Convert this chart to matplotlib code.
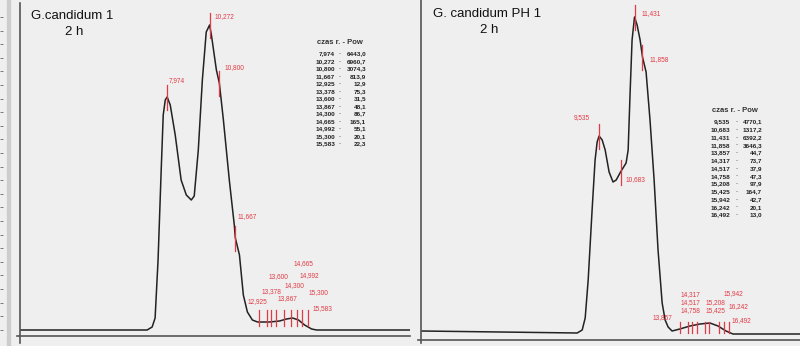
import numpy as np
import matplotlib
matplotlib.use("Agg")
import matplotlib.pyplot as plt

plt.rcParams['font.family'] = ['Liberation Sans', 'DejaVu Sans']

# --- G.candidum 1, 2 h : detector trace (time [min], signal) ---
t1 = [0.0, 6.887, 7.16, 7.32, 7.48, 7.65, 7.76, 7.87, 7.974, 8.14, 8.41, 8.73, 9.01, 9.28,
      9.44, 9.66, 9.88, 10.09, 10.272, 10.37, 10.64, 10.80, 11.02, 11.34, 11.61, 11.667,
      11.89, 12.10, 12.32, 12.59, 12.87, 13.52, 14.06, 14.44, 14.77, 15.09, 15.42, 15.80,
      16.07, 21.13]
s1 = [0, 0, 3, 12, 70, 160, 215, 230, 233, 225, 195, 150, 135, 130,
      134, 180, 250, 298, 305, 295, 260, 247, 210, 150, 105, 92,
      75, 35, 18, 10, 8, 8, 9, 11, 12, 10, 5, 1,
      0, 0]
rt1 = [7.974, 10.272, 10.800, 11.667, 12.925, 13.378, 13.600, 13.867, 14.300, 14.665,
       14.992, 15.300, 15.583]
area1 = [6443.0, 6960.7, 3074.3, 813.9, 12.9, 75.3, 31.5, 48.1, 86.7, 165.1, 55.1, 20.1, 22.3]

# --- G. candidum PH 1, 2 h ---
t2 = [0.0, 4.24, 8.36, 8.63, 8.79, 8.95, 9.16, 9.32, 9.43, 9.535, 9.70, 9.86, 10.07, 10.28,
      10.45, 10.683, 10.98, 11.09, 11.19, 11.30, 11.431, 11.57, 11.73, 11.858, 12.05, 12.26,
      12.48, 12.69, 12.91, 13.07, 13.23, 13.44, 13.857, 14.40, 14.94, 15.47, 15.90, 16.33,
      16.70, 20.29]
s2 = [3, 2, 1, 4, 16, 54, 124, 174, 192, 198, 194, 184, 162, 152,
      154, 162, 171, 184, 239, 294, 317, 309, 294, 277, 262, 214,
      154, 84, 31, 14, 7, 3, 5, 8, 10, 11, 8, 3,
      0, 0]
rt2 = [9.535, 10.683, 11.431, 11.858, 13.857, 14.317, 14.517, 14.758, 15.208, 15.425,
       15.942, 16.242, 16.492]
area2 = [4770.1, 1317.2, 6392.2, 3646.3, 44.7, 73.7, 37.9, 47.3, 97.9, 164.7, 42.7, 20.1, 13.0]

# where the red retention-time labels sit (time, signal)
lab1_xy = [(8.03, 249), (10.53, 313), (11.07, 262), (11.78, 113), (12.32, 28), (13.08, 38),
           (13.46, 53), (13.95, 31), (14.33, 44), (14.82, 66), (15.15, 54), (15.64, 37),
           (15.85, 21)]
lab2_xy = [(8.20, 216), (10.93, 154), (11.78, 320), (12.21, 274), (12.42, 16), (13.87, 39),
           (13.87, 31), (13.87, 23), (15.21, 31), (15.21, 23), (16.22, 40), (16.44, 27),
           (16.65, 13)]

W, H = 800, 346
BG = '#efefef'
RED = '#e23a44'


def fmt(v, nd):
    return f"{v:.{nd}f}".replace('.', ',')


def px(x, y):
    return x / W, 1 - y / H


fig = plt.figure(figsize=(8, 3.46), dpi=100, facecolor=BG)
# narrow gray strip on the far left with the remains of a scale
fig.patches.append(plt.Rectangle((7 / W, 0), 3 / W, 1, transform=fig.transFigure,
                                 color='#cdcdcd', zorder=0))
edge = fig.add_axes([0, 0, 3 / W, 1])
edge.set_facecolor('none')
edge.set_ylim(H, 0)
edge.set_xlim(0, 1)
for sp in edge.spines.values():
    sp.set_visible(False)
edge.set_xticks([])
edge.set_yticks(np.arange(17, 340, 13.6))
edge.tick_params(axis='y', direction='in', length=2.5, width=0.6, color='#666',
                 labelleft=False, pad=0)


def panel(rect, ylim, xmax, t, s, rt, area, lab_xy, small_rng, title, title_xy,
          table_x, table_y0, table_dy):
    ax = fig.add_axes(rect)
    ax.set_facecolor(BG)
    ax.set_xlim(0, xmax)
    ax.set_ylim(*ylim)
    for k in ('top', 'right', 'bottom'):
        ax.spines[k].set_visible(False)
    ax.spines['left'].set_color('#555')
    ax.spines['left'].set_linewidth(1.2)
    ax.set_xticks([])
    ax.set_yticks([])
    ax.axhline(-6, xmin=-0.008, xmax=1, color='#555', lw=1.2, clip_on=False)
    ax.plot(t, s, color='#222', lw=1.1, solid_joinstyle='round')

    for r, a, (lx, ly) in zip(rt, area, lab_xy):
        v = np.interp(r, t, s)
        if a > 500:
            ax.plot([r, r], [v - 13, v + 12], color=RED, lw=0.9)
        else:
            ax.plot([r, r], small_rng, color=RED, lw=0.9)
        ax.text(lx, ly, fmt(r, 3), color=RED, fontsize=4.7, ha='left', va='center')

    tx, ty = title_xy
    fig.text(*px(tx, ty), title, fontsize=9.5, ha='center', va='center', color='#111')
    fig.text(*px(tx + 2, ty + 16), '2 h', fontsize=9.5, ha='center', va='center', color='#111')

    c1, cd, c2 = table_x
    fig.text(*px(c1 - 18, table_y0 - 12), 'czas r. - Pow', fontsize=5.5, fontweight='bold',
             color='#333', ha='left', va='center')
    for i, (r, a) in enumerate(zip(rt, area)):
        y = table_y0 + i * table_dy
        fig.text(*px(c1, y), fmt(r, 3), fontsize=4.6, fontweight='bold', color='#222',
                 ha='right', va='center')
        fig.text(*px(cd, y), '-', fontsize=4.6, color='#444', ha='center', va='center')
        fig.text(*px(c2, y), fmt(a, 1), fontsize=4.6, fontweight='bold', color='#222',
                 ha='right', va='center')
    return ax


panel([20 / W, 3 / H, 390 / W, 340 / H], (-13, 327), 21.13, t1, s1, rt1, area1, lab1_xy,
      [4, 20], 'G.candidum 1', (72, 16), (335, 340, 366), 54, 7.5)
panel([421 / W, 3 / H, 379 / W, 343 / H], (-9, 334), 20.29, t2, s2, rt2, area2, lab2_xy,
      [1, 12], 'G. candidum PH 1', (487, 14), (730, 737, 762), 122, 7.75)

fig.savefig('out.png', dpi=100, facecolor=BG)
